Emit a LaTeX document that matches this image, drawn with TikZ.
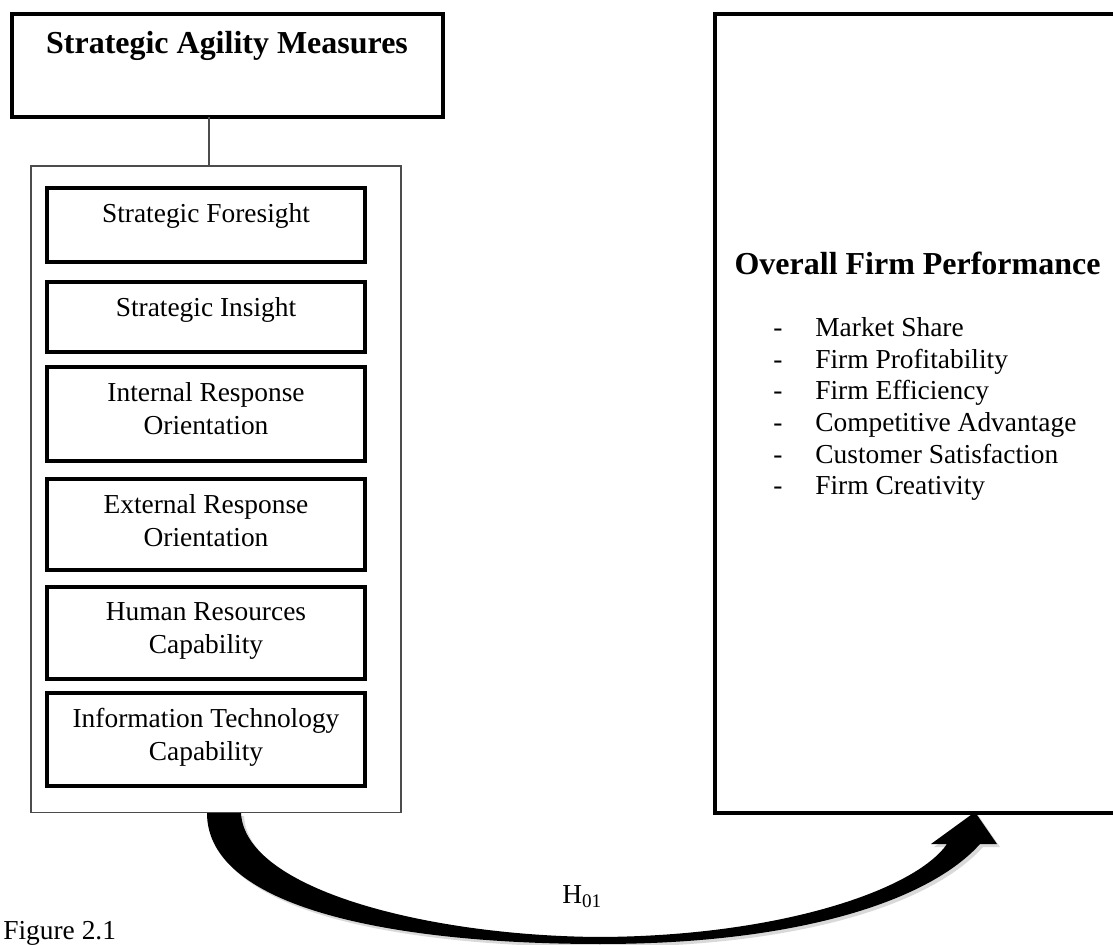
\documentclass[tikz,border=0pt]{standalone}
\usepackage{fontspec}
\setmainfont{Liberation Serif}
\begin{document}
\begin{tikzpicture}[x=0.02cm,y=-0.02cm,
    txt/.style={font=\fontsize{15.6}{18.8}\selectfont,inner sep=0pt},
    headtxt/.style={font=\fontsize{18.2}{22}\selectfont\bfseries,inner sep=0pt},
    itembox/.style={draw,line width=2pt,minimum width=6.36cm,inner sep=0pt,outer sep=0pt}]
    \useasboundingbox (0,0) rectangle (1113,945);
    \clip (0,0) rectangle (1113,945);
    % left column
    \node[draw,line width=2.3pt,minimum width=8.62cm,minimum height=2.06cm,outer sep=0pt] (measures) at (227.5,65.5) {};
    \node[headtxt,anchor=base] (mtitle) at (227,54) {Strategic Agility Measures};
    \node[draw=black!70,line width=0.85pt,minimum width=7.4cm,minimum height=12.94cm,outer sep=0pt] (frame) at (216,489.2) {};
    \coordinate (linkx) at (209,0);
    \draw[black!70,line width=0.75pt] (measures.south -| linkx) -- (frame.north -| linkx);
    \foreach \n/\y/\h/\t in {fore/188/1.48cm/Strategic Foresight, ins/282/1.40cm/Strategic Insight,
        iro/367/1.88cm/Internal Response\\Orientation, ero/479/1.82cm/External Response\\Orientation,
        hrc/587/1.84cm/Human Resources\\Capability, itc/693/1.86cm/Information Technology\\Capability} {
      \node[itembox,minimum height=\h,anchor=north] (\n) at (206,\y) {};
      \node[txt,align=center,anchor=north] (\n-txt) at (206,\y+15) {\t};
    }
    % right column
    \node[draw,line width=1.9pt,minimum width=8.2cm,minimum height=15.98cm,outer sep=0pt] (perf) at (920,413.5) {};
    \node[headtxt,anchor=base] (ptitle) at (917.5,275) {Overall Firm Performance};
    \foreach \t [count=\i] in {Market Share, Firm Profitability, Firm Efficiency,
        Competitive Advantage, Customer Satisfaction, Firm Creativity} {
      \node[txt,anchor=base] (dash\i) at (778,305.1+31.6*\i) {-};
      \node[txt,anchor=base west] (item\i) at (815,305.1+31.6*\i) {\t};
    }
    % curved arrow, faint shadow first
    \fill[black,opacity=0.15] (210,816) .. controls (210,913) and (403,947) .. (603,947)
      .. controls (803,947) and (933,903) .. (983,847)
      -- (1000,847) -- (978,815) -- (934,847) -- (950,847)
      .. controls (918,893) and (783,939) .. (603,940)
      .. controls (433,939) and (248,893) .. (244,816) -- cycle;
    \fill (207,813) .. controls (207,910) and (400,944) .. (600,944)
      .. controls (800,944) and (930,900) .. (980,844)
      -- (997,844) -- (975,812) -- (931,844) -- (947,844)
      .. controls (915,890) and (780,936) .. (600,937)
      .. controls (430,936) and (245,890) .. (241,813) -- cycle;
    \node[txt,anchor=base west] (hyp) at (562,903) {H\textsubscript{01}};
    \node[txt,anchor=base west] (fig) at (3,939) {Figure 2.1};
  \end{tikzpicture}
\end{document}
